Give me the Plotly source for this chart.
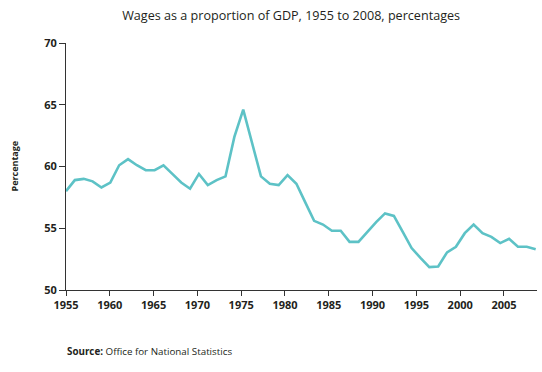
import plotly.graph_objects as go

years = list(range(1955, 2009))
wages_pct = [
    58.0, 58.9, 59.0, 58.8, 58.3, 58.7, 60.1, 60.6, 60.1, 59.7,
    59.7, 60.1, 59.4, 58.7, 58.2, 59.4, 58.5, 58.9, 59.2, 62.4,
    64.6, 61.9, 59.2, 58.6, 58.5, 59.3, 58.6, 57.1, 55.6, 55.3,
    54.8, 54.8, 53.9, 53.9, 54.7, 55.5, 56.2, 56.0, 54.7, 53.4,
    52.6, 51.85, 51.9, 53.05, 53.5, 54.6, 55.3, 54.6, 54.3, 53.8,
    54.15, 53.5, 53.5, 53.3,
]
x_ticks = [1955, 1960, 1965, 1970, 1975, 1980, 1985, 1990, 1995, 2000, 2005]
y_ticks = [50, 55, 60, 65, 70]

title_text = "Wages as a proportion of GDP, 1955 to 2008, percentages"
y_label = "Percentage"
source_text = "<b>Source:</b> Office for National Statistics"

ink = "#231f20"
line_col = "#5dc2c6"
FONT = "Open Sans"

fig = go.Figure()
fig.add_trace(go.Scatter(
    x=years, y=wages_pct, mode="lines", xaxis="x2",
    line=dict(color=line_col, width=2.6),
    hoverinfo="skip", showlegend=False,
))
# invisible trace to anchor the tick axis
fig.add_trace(go.Scatter(x=[x_ticks[0]], y=[y_ticks[0]], mode="markers",
                         marker=dict(opacity=0), showlegend=False, hoverinfo="skip"))

fig.update_layout(
    width=542, height=372,
    margin=dict(l=66, r=5, t=43, b=82),
    paper_bgcolor="white", plot_bgcolor="white",
    font=dict(family=FONT, color=ink),
    title=dict(text=title_text, x=0.478, xanchor="center", xref="paper",
               y=1 - 16 / 372, yanchor="middle", yref="container",
               font=dict(family=FONT, size=12.6, color=ink)),
    xaxis=dict(range=[1955, 2008.77], tickvals=x_ticks, showgrid=False, zeroline=False,
               showline=True, linecolor="#333333", linewidth=1,
               ticks="outside", ticklen=5, tickcolor="#333333", tickwidth=1,
               tickfont=dict(family=FONT, size=11, color=ink, weight="bold")),
    xaxis2=dict(range=[1955, 2008.15], overlaying="x", visible=False, anchor="y"),
    yaxis=dict(range=[50, 70], tickvals=y_ticks, showgrid=False, zeroline=False,
               showline=True, linecolor="#333333", linewidth=1,
               ticks="outside", ticklen=6, tickcolor="#333333", tickwidth=1,
               tickfont=dict(family=FONT, size=11, color=ink, weight="bold")),
    annotations=[
        dict(text=y_label, textangle=-90, xref="paper", yref="paper",
             x=(14 - 66) / 471, y=0.5, xanchor="center", yanchor="middle",
             showarrow=False, font=dict(family=FONT, size=9, color=ink, weight="bold")),
        dict(text=source_text, xref="paper", yref="paper",
             x=(65 - 66) / 471, y=-(351 - 290) / 247, xanchor="left", yanchor="middle",
             showarrow=False, font=dict(family=FONT, size=9.8, color=ink)),
    ],
)

fig.write_html("out.html", config={"displayModeBar": False},
               post_script="document.body.style.margin='0';document.body.style.padding='0';")
